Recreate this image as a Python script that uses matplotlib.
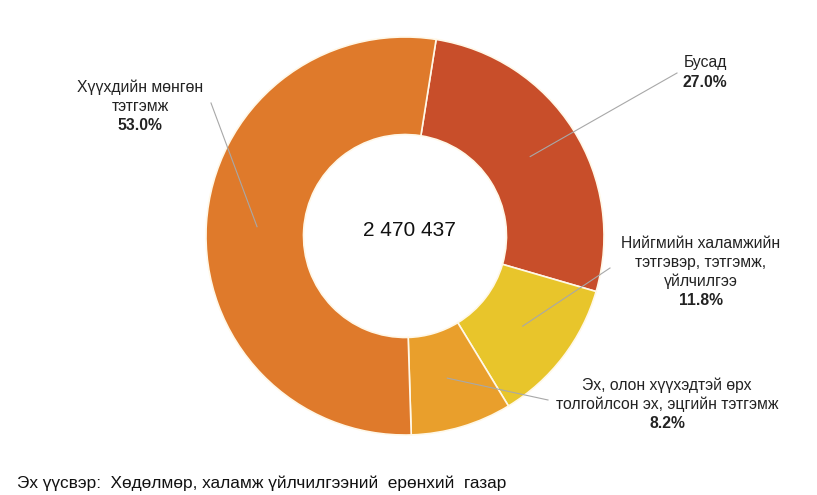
import matplotlib
matplotlib.use("Agg")
import matplotlib.pyplot as plt
import numpy as np

plt.rcParams['font.family'] = ['Liberation Sans', 'DejaVu Sans']

categories = [
    "Бусад",
    "Нийгмийн халамжийн\nтэтгэвэр, тэтгэмж,\nүйлчилгээ",
    "Эх, олон хүүхэдтэй өрх\nтолгойлсон эх, эцгийн тэтгэмж",
    "Хүүхдийн мөнгөн\nтэтгэмж",
]
values = [27.0, 11.8, 8.2, 53.0]
total_text = "2 470 437"
source_text = "Эх үүсвэр:  Хөдөлмөр, халамж үйлчилгээний  ерөнхий  газар"
colors = ["#C84E2A", "#E8C52B", "#E99F2C", "#DF7A2B"]

W, H = 817, 495
fig = plt.figure(figsize=(W / 100, H / 100), dpi=100)
ax = fig.add_axes([0, 0, 1, 1])

cx, cy, R = 405, H - 236, 199
wedges, _ = ax.pie(values, colors=colors, startangle=81, counterclock=False,
                   center=(cx, cy), radius=R,
                   wedgeprops=dict(width=R * 0.49, edgecolor="#FFF8E8", linewidth=1.2))
ax.set_xlim(0, W)
ax.set_ylim(0, H)
ax.set_aspect('equal')
ax.axis('off')

# label positions (pixel coords, top-left origin): text center x, first line y, leader end
label_pos = [
    (705, 63, (677, 73)),
    (701, 243, (610, 268)),
    (667, 385, (548, 400)),
    (140, 87, (211, 103)),
]
line_h = 19.3
for w, cat, val, (tx, ty, lend) in zip(wedges, categories, values, label_pos):
    lines = cat.split("\n")
    for i, ln in enumerate(lines):
        ax.text(tx, H - (ty + i * line_h), ln, ha='center', va='center',
                fontsize=11.3, color='#222222')
    ax.text(tx, H - (ty + len(lines) * line_h), f"{val:.1f}%", ha='center', va='center',
            fontsize=11.3, fontweight='bold', color='#222222')
    mid = np.deg2rad((w.theta1 + w.theta2) / 2)
    r = R * 0.745
    px, py = cx + r * np.cos(mid), cy + r * np.sin(mid)
    ax.plot([px, lend[0]], [py, H - lend[1]], color='#A8A8A8', lw=0.8)

ax.text(409, H - 231, total_text, ha='center', va='center', fontsize=15, color='#111111')
ax.text(17, H - 483, source_text, ha='left', va='center', fontsize=12.4, color='#111111')

fig.savefig("out.png", dpi=100, facecolor='white')
